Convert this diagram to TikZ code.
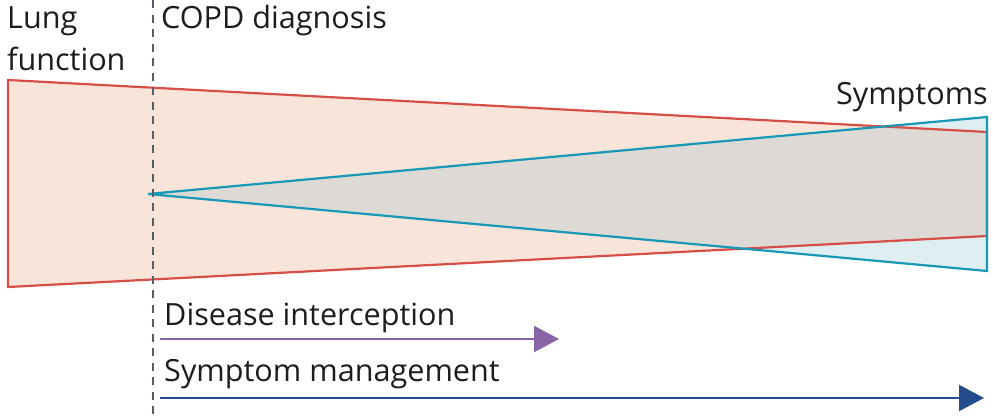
\documentclass[tikz,border=0pt]{standalone}
\usepackage{fontspec}
\setmainfont{Open Sans}
\usetikzlibrary{arrows.meta}
\definecolor{lungred}{RGB}{214,78,70}
\definecolor{peach}{RGB}{249,228,217}
\definecolor{teal}{RGB}{22,152,182}
\definecolor{lightblue}{RGB}{222,238,241}
\definecolor{overlap}{RGB}{221,218,213}
\definecolor{purp}{RGB}{134,100,165}
\definecolor{darkblue}{RGB}{37,76,140}
\definecolor{dashgray}{RGB}{85,95,105}
\definecolor{txt}{RGB}{30,28,28}
\begin{document}
\begin{tikzpicture}[x=1pt,y=-1pt,
  lbl/.style={inner sep=0pt,text=txt,font=\fontsize{30.6}{42}\selectfont},
  barrow/.style={line width=2.2pt,-{Triangle[length=25pt,width=26pt]}}]
\useasboundingbox (0,0) rectangle (993,415);
% coordinates
\coordinate (LT) at (8,80);
\coordinate (LB) at (8,287);
\coordinate (RT) at (987,132);
\coordinate (RB) at (987,236);
\coordinate (A) at (148,194);
\coordinate (ST) at (987,117);
\coordinate (SB) at (987,271);
% lung function fill
\fill[peach] (LT) -- (RT) -- (RB) -- (LB) -- cycle;
% symptoms fill
\fill[lightblue] (A) -- (ST) -- (SB) -- cycle;
\begin{scope}
  \clip (LT) -- (RT) -- (RB) -- (LB) -- cycle;
  \fill[overlap] (A) -- (ST) -- (SB) -- cycle;
\end{scope}
% outlines
\draw[lungred,line width=2.2pt,line join=miter] (LT) -- (RT) -- (RB) -- (LB) -- cycle;
\draw[teal,line width=2.2pt,line join=miter] (A) -- (ST) -- (SB) -- cycle;
% dashed diagnosis line
\coordinate (D1) at (153,0);
\coordinate (D2) at (153,415);
\draw[dashgray,line width=2.2pt,dash pattern=on 8pt off 6.5pt] (D1) -- (D2);
% labels
\node[lbl,anchor=base west,align=left] (lung) at (7,70) {Lung\\function};
\node[lbl,anchor=base west] (copd) at (161,28) {COPD diagnosis};
\node[lbl,anchor=base east] (symp) at (988,104) {Symptoms};
\node[lbl,anchor=base west] (di) at (164,325) {Disease interception};
\node[lbl,anchor=base west] (sm) at (164,381) {Symptom management};
% arrows
\coordinate (a1s) at (160,339);
\coordinate (a1e) at (559,339);
\coordinate (a2s) at (160,398);
\coordinate (a2e) at (984,398);
\draw[barrow,purp] (a1s) -- (a1e);
\draw[barrow,darkblue] (a2s) -- (a2e);
\end{tikzpicture}
\end{document}
